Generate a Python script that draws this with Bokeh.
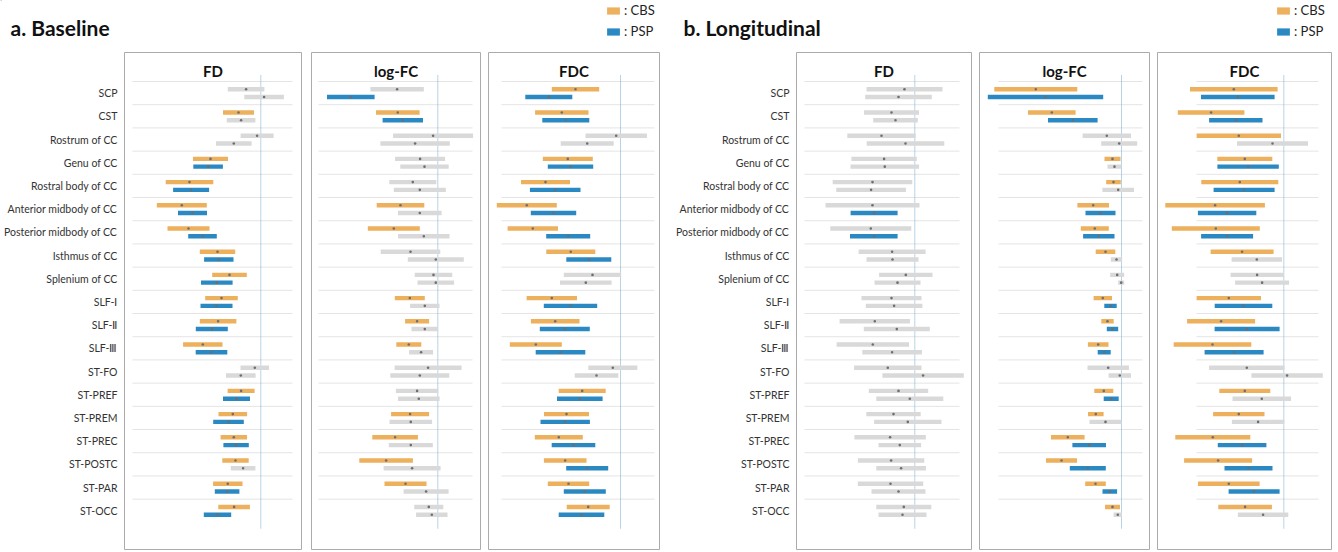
from bokeh.plotting import figure
from bokeh.models import Range1d, FixedTicker, ColumnDataSource, Legend, LegendItem
from bokeh.layouts import column, row
from bokeh.core.properties import value
from bokeh.embed import file_html
from bokeh.resources import INLINE

TRACTS = ["SCP", "CST", "Rostrum of CC", "Genu of CC", "Rostral body of CC",
          "Anterior midbody of CC", "Posterior midbody of CC", "Isthmus of CC",
          "Splenium of CC", "SLF-Ⅰ", "SLF-Ⅱ", "SLF-Ⅲ", "ST-FO", "ST-PREF",
          "ST-PREM", "ST-PREC", "ST-POSTC", "ST-PAR", "ST-OCC"]

# ---- a. Baseline : FD ----
A_FD_CBS_MEAN = [-14.7, -22.3, -3.7, -50.3, -71.3, -79.0, -72.3, -43.3, -31.3, -39.3, -42.7, -58.0, -6.0, -19.7, -28.0, -27.0, -25.3, -33.0, -26.7]
A_FD_CBS_CI = [18.3, 15.5, 16.5, 17.5, 23.8, 25.0, 21.0, 17.7, 17.3, 16.3, 18.3, 19.7, 14.3, 13.5, 14.3, 13.2, 13.2, 14.7, 15.8]
A_FD_CBS_SIG = [0, 1, 0, 1, 1, 1, 1, 1, 1, 1, 1, 1, 0, 1, 1, 1, 1, 1, 1]
A_FD_PSP_MEAN = [3.3, -19.7, -27.0, -52.7, -69.7, -68.3, -58.3, -42.0, -44.0, -44.3, -49.0, -49.3, -20.0, -24.3, -32.3, -24.7, -17.7, -33.7, -43.3]
A_FD_PSP_CI = [19.8, 14.3, 17.8, 14.8, 18.0, 14.5, 14.3, 14.7, 15.8, 16.0, 16.0, 15.8, 14.8, 13.5, 15.3, 12.7, 12.3, 12.3, 13.7]
A_FD_PSP_SIG = [0, 0, 0, 1, 1, 1, 1, 1, 1, 1, 1, 1, 0, 1, 1, 1, 0, 1, 1]

# ---- a. Baseline : log-FC ----
A_FC_CBS_MEAN = [-40.7, -40.0, -4.7, -17.7, -25.0, -37.3, -44.0, -27.3, -4.3, -28.0, -20.7, -29.0, -9.7, -20.7, -27.7, -42.7, -51.7, -32.3, -9.0]
A_FC_CBS_CI = [26.7, 21.8, 40.0, 25.0, 23.5, 23.8, 26.0, 29.8, 18.8, 15.0, 12.0, 12.5, 33.5, 21.2, 19.0, 22.8, 26.8, 21.0, 14.5]
A_FC_CBS_SIG = [0, 1, 0, 0, 0, 1, 1, 0, 0, 1, 1, 1, 0, 0, 1, 1, 1, 1, 0]
A_FC_PSP_MEAN = [-87.0, -35.0, -22.7, -13.3, -18.0, -18.0, -14.0, -2.0, -2.0, -13.0, -13.0, -16.7, -18.0, -19.0, -27.0, -27.0, -25.7, -11.7, -6.0]
A_FC_PSP_CI = [23.8, 20.2, 34.7, 24.2, 26.0, 21.8, 25.7, 28.0, 18.3, 14.7, 13.3, 12.0, 29.5, 20.8, 21.3, 22.0, 28.5, 22.5, 15.7]
A_FC_PSP_SIG = [1, 1, 0, 0, 0, 0, 0, 0, 0, 0, 0, 0, 0, 0, 0, 0, 0, 0, 0]

# ---- a. Baseline : FDC ----
A_FDC_CBS_MEAN = [-45.0, -58.7, -4.3, -52.7, -75.0, -93.7, -87.7, -49.7, -28.0, -68.7, -65.3, -84.7, -7.7, -38.3, -54.0, -61.7, -55.3, -52.0, -32.3]
A_FDC_CBS_CI = [23.7, 26.7, 30.7, 25.0, 24.5, 30.0, 25.2, 24.5, 28.7, 25.2, 24.3, 26.0, 24.5, 23.5, 22.5, 24.0, 21.3, 20.7, 21.5]
A_FDC_CBS_SIG = [1, 1, 0, 1, 1, 1, 1, 1, 0, 1, 1, 1, 0, 1, 1, 1, 1, 1, 1]
A_FDC_PSP_MEAN = [-71.7, -54.7, -33.3, -50.0, -65.3, -67.0, -52.3, -31.7, -34.7, -50.0, -55.7, -60.0, -24.0, -40.7, -55.3, -47.0, -33.3, -35.7, -39.0]
A_FDC_PSP_CI = [23.5, 23.5, 26.5, 22.7, 25.3, 22.7, 22.0, 22.5, 25.8, 26.7, 25.0, 24.8, 21.8, 22.8, 24.7, 21.8, 21.0, 21.0, 22.8]
A_FDC_PSP_SIG = [1, 1, 0, 1, 1, 1, 1, 1, 0, 1, 1, 1, 0, 1, 1, 1, 1, 1, 1]

# ---- b. Longitudinal : FD ----
B_FD_CBS_MEAN = [-10.3, -23.3, -33.3, -30.7, -42.3, -42.3, -44.0, -22.7, -9.0, -23.3, -40.0, -42.0, -27.0, -16.3, -21.3, -24.7, -23.7, -24.3, -11.0]
B_FD_CBS_CI = [38.0, 27.5, 34.2, 32.7, 39.8, 47.0, 40.5, 33.5, 26.7, 30.0, 35.2, 36.2, 33.7, 29.7, 27.2, 35.7, 33.2, 32.7, 27.5]
B_FD_CBS_SIG = [0] * 19
B_FD_PSP_MEAN = [-16.3, -19.3, -9.3, -30.0, -43.7, -40.7, -41.0, -22.3, -17.3, -20.7, -18.0, -22.7, 8.3, -5.0, -7.0, -15.0, -13.7, -16.3, -12.3]
B_FD_PSP_CI = [33.3, 22.3, 38.8, 34.3, 34.8, 23.5, 23.8, 26.0, 23.0, 28.3, 33.0, 29.8, 40.7, 33.5, 33.7, 21.3, 24.8, 27.0, 24.0]
B_FD_PSP_SIG = [0, 0, 0, 0, 0, 1, 1, 0, 0, 0, 0, 0, 0, 0, 0, 0, 0, 0, 0]

# ---- b. Longitudinal : log-FC ----
B_FC_CBS_MEAN = [-85.7, -69.7, -14.7, -9.0, -8.0, -28.3, -26.7, -16.0, -4.3, -18.7, -14.0, -23.3, -13.3, -17.7, -25.7, -53.7, -60.0, -26.0, -9.0]
B_FC_CBS_CI = [41.5, 23.8, 24.2, 8.0, 7.3, 15.8, 14.0, 9.8, 7.0, 9.2, 6.2, 10.3, 20.7, 9.5, 7.8, 16.8, 15.5, 10.3, 7.5]
B_FC_CBS_SIG = [1, 1, 0, 1, 1, 1, 1, 1, 0, 1, 1, 1, 0, 1, 1, 1, 1, 1, 1]
B_FC_PSP_MEAN = [-76.0, -48.7, -2.3, -7.0, -3.3, -21.0, -22.7, -5.0, -0.3, -11.0, -9.0, -17.3, -1.7, -10.3, -16.0, -32.3, -33.7, -11.7, -3.7]
B_FC_PSP_CI = [57.7, 24.8, 18.0, 7.0, 15.8, 15.0, 15.7, 5.7, 3.0, 6.2, 5.7, 6.5, 11.2, 7.5, 16.0, 16.8, 18.0, 7.3, 4.2]
B_FC_PSP_SIG = [1, 1, 0, 0, 0, 1, 1, 0, 0, 1, 1, 1, 0, 1, 0, 1, 1, 1, 0]

# ---- b. Longitudinal : FDC ----
B_FDC_CBS_MEAN = [-50.0, -72.7, -45.0, -39.0, -44.0, -68.7, -68.0, -41.7, -26.7, -55.0, -62.7, -71.3, -37.0, -39.0, -45.0, -71.0, -65.7, -55.0, -38.7]
B_FDC_CBS_CI = [43.8, 33.3, 42.2, 27.5, 38.5, 49.8, 44.0, 31.5, 26.5, 32.2, 34.0, 38.8, 37.7, 25.5, 25.7, 37.5, 34.0, 30.8, 26.8]
B_FDC_CBS_SIG = [1, 1, 1, 1, 1, 1, 1, 1, 0, 1, 1, 1, 0, 1, 1, 1, 1, 1, 1]
B_FDC_PSP_MEAN = [-46.0, -48.0, -11.3, -35.7, -39.7, -56.7, -56.7, -27.0, -21.7, -40.3, -36.7, -49.7, 3.3, -22.0, -25.7, -41.7, -35.3, -29.7, -20.7]
B_FDC_PSP_CI = [36.8, 26.7, 35.5, 30.7, 30.5, 29.2, 26.0, 25.2, 27.0, 28.8, 32.5, 29.5, 35.7, 29.3, 26.2, 24.3, 24.0, 25.5, 25.2]
B_FDC_PSP_SIG = [1, 1, 0, 1, 1, 1, 1, 0, 0, 1, 1, 1, 0, 0, 0, 1, 1, 1, 0]

ORANGE = "#EDB05C"
BLUE = "#2A88C2"
GRAY = "#D9D9D9"
DOT = "#6E6E6E"
FONT = "Lato"

HEADER_H = 51
FIG_H = 499
Y_RANGE = (19.67, -1.75)


def panel(title, cm, cc, cs, pm, pc, ps, xr, grid_lim, width, left_border, labels=False):
    p = figure(width=width, height=FIG_H, x_range=Range1d(*xr), y_range=Range1d(*Y_RANGE),
               output_backend="svg", toolbar_location=None,
               x_axis_location=None, y_axis_location="left" if labels else None,
               min_border_left=left_border, min_border_right=1, min_border_top=1,
               min_border_bottom=1, outline_line_color="#ABABAB", outline_line_width=1,
               background_fill_color="white", border_fill_color="white")
    p.grid.visible = False
    n = len(TRACTS)
    # row separators
    p.segment(x0=[grid_lim[0]] * n, x1=[grid_lim[1]] * n,
              y0=[k - 0.5 for k in range(n)], y1=[k - 0.5 for k in range(n)],
              line_color="#E4E4E4", line_width=1)
    # zero line
    p.segment(x0=[0], x1=[0], y0=[-0.76], y1=[n - 0.24], line_color="#6FA8CC",
              line_width=1, line_dash="1 1")
    ys, lefts, rights, cols, means = [], [], [], [], []
    for k in range(n):
        ys.append(k - 0.165)
        lefts.append(cm[k] - cc[k])
        rights.append(cm[k] + cc[k])
        cols.append(ORANGE if cs[k] else GRAY)
        means.append(cm[k])
        ys.append(k + 0.17)
        lefts.append(pm[k] - pc[k])
        rights.append(pm[k] + pc[k])
        cols.append(BLUE if ps[k] else GRAY)
        means.append(pm[k])
    src = ColumnDataSource(dict(y=ys, left=lefts, right=rights, color=cols, mean=means))
    p.hbar(y="y", left="left", right="right", height=0.19, fill_color="color",
           line_color=None, source=src)
    p.scatter(x="mean", y="y", size=2.6, fill_color=DOT, line_color=None, source=src)
    p.text(x=[(xr[0] + xr[1]) / 2], y=[-0.95], text=[title], text_align="center",
           text_baseline="middle", text_font=value(FONT), text_font_style="bold",
           text_font_size="15px", text_color="#111111")
    if labels:
        ax = p.yaxis[0]
        ax.ticker = FixedTicker(ticks=list(range(n)))
        ax.major_label_overrides = {i: t for i, t in enumerate(TRACTS)}
        ax.axis_line_color = None
        ax.major_tick_line_color = None
        ax.minor_tick_line_color = None
        ax.major_tick_out = 0
        ax.major_tick_in = 0
        ax.minor_tick_out = 0
        ax.minor_tick_in = 0
        ax.major_label_standoff = 7
        ax.major_label_text_font = FONT
        ax.major_label_text_font_size = "10.5px"
        ax.major_label_text_color = "#333333"
    return p


a_fd = panel("FD", A_FD_CBS_MEAN, A_FD_CBS_CI, A_FD_CBS_SIG, A_FD_PSP_MEAN, A_FD_PSP_CI, A_FD_PSP_SIG,
             (-136.3, 40.7), (-128.3, 31.7), 302, 124, labels=True)
a_fc = panel("log-FC", A_FC_CBS_MEAN, A_FC_CBS_CI, A_FC_CBS_SIG, A_FC_PSP_MEAN, A_FC_PSP_CI, A_FC_PSP_SIG,
             (-126.3, 42.7), (-119.3, 34.7), 179, 9)
a_fdc = panel("FDC", A_FDC_CBS_MEAN, A_FDC_CBS_CI, A_FDC_CBS_SIG, A_FDC_PSP_MEAN, A_FDC_PSP_CI, A_FDC_PSP_SIG,
              (-132.0, 39.0), (-119.0, 34.0), 179, 7)
b_fd = panel("FD", B_FD_CBS_MEAN, B_FD_CBS_CI, B_FD_CBS_SIG, B_FD_PSP_MEAN, B_FD_PSP_CI, B_FD_PSP_SIG,
             (-118.3, 56.7), (-110.3, 44.7), 312, 136, labels=True)
b_fc = panel("log-FC", B_FC_CBS_MEAN, B_FC_CBS_CI, B_FC_CBS_SIG, B_FC_PSP_MEAN, B_FC_PSP_CI, B_FC_PSP_SIG,
             (-142.0, 28.0), (-123.0, 21.0), 178, 7)
b_fdc = panel("FDC", B_FDC_CBS_MEAN, B_FDC_CBS_CI, B_FDC_CBS_SIG, B_FDC_PSP_MEAN, B_FDC_PSP_CI, B_FDC_PSP_SIG,
              (-126.3, 47.7), (-87.3, 34.7), 182, 7)

# ---- header with panel titles and legends ----
HEADER_W = 1332
header = figure(width=HEADER_W, height=HEADER_H, x_range=Range1d(0, HEADER_W),
                y_range=Range1d(HEADER_H, 0),
                output_backend="svg", toolbar_location=None, x_axis_location=None,
                y_axis_location=None, min_border=0, outline_line_color=None)
header.grid.visible = False
header.text(x=[10, 683], y=[27, 27], text=["a. Baseline", "b. Longitudinal"],
            text_align="left", text_baseline="alphabetic", text_font=value(FONT),
            text_font_style="bold", text_font_size="21px", text_color="#111111")

for lx in (605, 1275):
    r_cbs = header.hbar(y=[-1000], left=[0], right=[1], height=1, fill_color=ORANGE, line_color=None)
    r_psp = header.hbar(y=[-1000], left=[0], right=[1], height=1, fill_color=BLUE, line_color=None)
    leg = Legend(items=[LegendItem(label=": CBS", renderers=[r_cbs]),
                        LegendItem(label=": PSP", renderers=[r_psp])],
                 location=(lx, HEADER_H - 39), orientation="vertical", glyph_width=16, glyph_height=9,
                 label_height=16, label_standoff=3, spacing=5, padding=0, margin=0,
                 border_line_color=None, background_fill_alpha=0,
                 label_text_font=FONT, label_text_font_size="13px", label_text_color="#222222")
    header.add_layout(leg)

layout = column(header, row(a_fd, a_fc, a_fdc, b_fd, b_fc, b_fdc, spacing=0), spacing=0)

open("out.html", "w").write(file_html(layout, INLINE))
